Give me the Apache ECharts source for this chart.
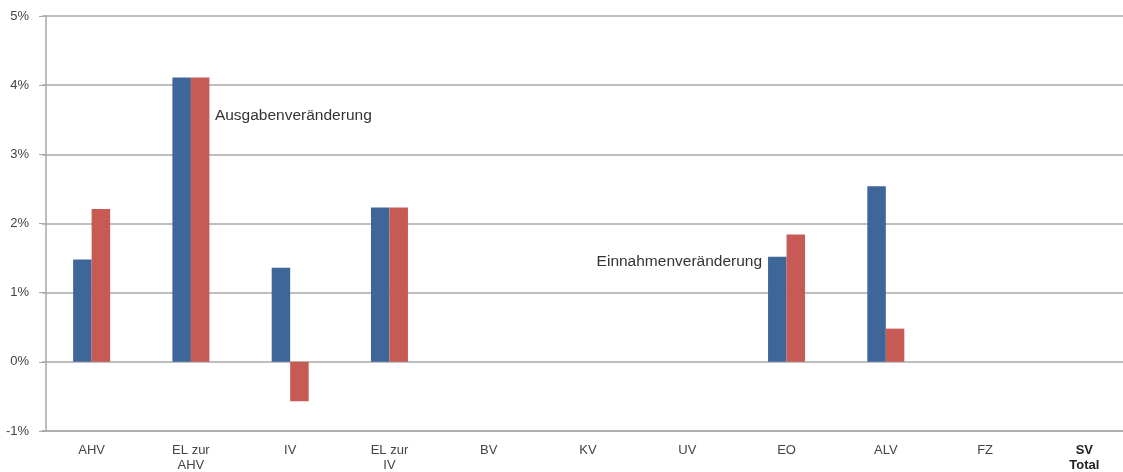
<!DOCTYPE html>
<html>
<head>
<meta charset="utf-8">
<script src="https://cdn.jsdelivr.net/npm/echarts@6/dist/echarts.min.js"></script>
<style>
  html, body { margin: 0; padding: 0; background: #fff; }
  #chart { width: 1123px; height: 472px; }
</style>
</head>
<body>
<div id="chart"></div>
<script>
const categories = ['AHV', 'EL zur\nAHV', 'IV', 'EL zur\nIV', 'BV', 'KV', 'UV', 'EO', 'ALV', 'FZ', 'SV\nTotal']
const einnahmen = [1.48, 4.11, 1.36, 2.23, 0, 0, 0, 1.52, 2.54, 0, 0]
const ausgaben = [2.21, 4.11, -0.57, 2.23, 0, 0, 0, 1.84, 0.48, 0, 0]
const yTicks = [-1, 0, 1, 2, 3, 4, 5]

const chart = echarts.init(document.getElementById('chart'))
const fontFamily = '"Liberation Sans", Arial, sans-serif'
const gridColor = '#a9a9a9'

const option = {
  animation: false,
  textStyle: { fontFamily: fontFamily },
  grid: {
    left: 42,
    top: 16,
    width: 1092,
    bottom: 41,
    outerBoundsMode: 'none'
  },
  xAxis: {
    type: 'category',
    data: categories,
    position: 'bottom',
    axisLine: { onZero: false, lineStyle: { color: gridColor, width: 1.5 } },
    axisTick: { alignWithLabel: true, length: 6, lineStyle: { color: gridColor } },
    axisLabel: {
      interval: 0,
      color: '#444',
      fontSize: 13,
      lineHeight: 15,
      margin: 12,
      formatter: function (v) {
        if (v.indexOf('SV') === 0) return '{b|SV}\n{b|Total}'
        return v
      },
      rich: {
        b: { fontWeight: 'bold', color: '#222', fontSize: 13, lineHeight: 15 }
      }
    }
  },
  yAxis: {
    type: 'value',
    min: yTicks[0],
    max: yTicks[yTicks.length - 1],
    interval: 1,
    offset: -4,
    axisLine: { show: true, lineStyle: { color: gridColor, width: 1.5 } },
    axisTick: { show: true, length: 7, lineStyle: { color: gridColor } },
    axisLabel: {
      color: '#444',
      fontSize: 13,
      margin: 17,
      formatter: '{value}%'
    },
    splitLine: { lineStyle: { color: gridColor, width: 1.5 } }
  },
  series: [
    {
      name: 'Einnahmenveränderung',
      type: 'bar',
      barWidth: 18.5,
      barGap: '0%',
      itemStyle: { color: '#3E6699' },
      data: einnahmen.map(function (v, i) {
        if (i === 7) {
          return {
            value: v,
            label: {
              show: true,
              position: [-6, 5],
              align: 'right',
              verticalAlign: 'middle',
              formatter: 'Einnahmenveränderung',
              color: '#333',
              fontSize: 15.5
            }
          }
        }
        return v
      })
    },
    {
      name: 'Ausgabenveränderung',
      type: 'bar',
      barWidth: 18.5,
      barGap: '0%',
      itemStyle: { color: '#C85A56' },
      data: ausgaben.map(function (v, i) {
        if (i === 1) {
          return {
            value: v,
            label: {
              show: true,
              position: [24, 38],
              align: 'left',
              verticalAlign: 'middle',
              formatter: 'Ausgabenveränderung',
              color: '#333',
              fontSize: 15.5
            }
          }
        }
        return v
      })
    }
  ]
}
option && chart.setOption(option)
</script>
</body>
</html>
